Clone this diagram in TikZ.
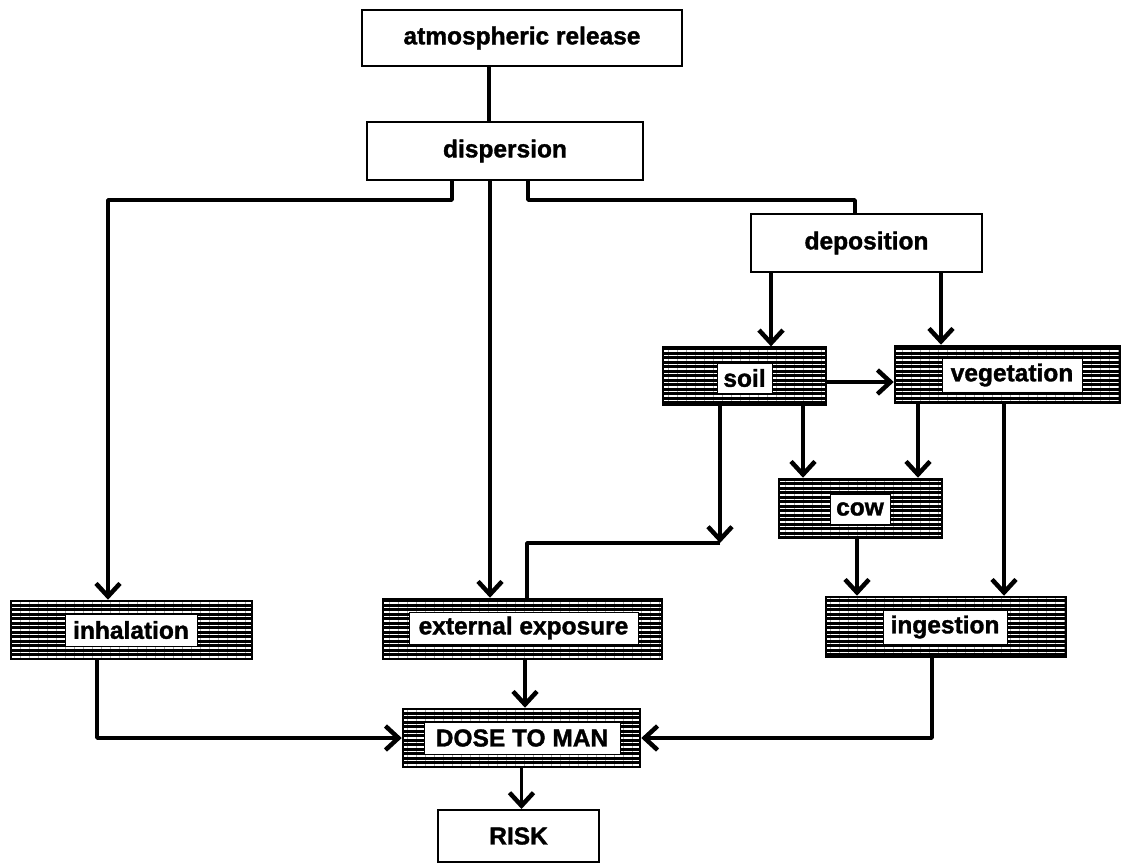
\documentclass[tikz,border=0pt]{standalone}
\usepackage{fontspec}
\setmainfont{Liberation Sans}
\newfontfamily\heavyfont{Liberation Sans Bold}[FakeBold=1.4]
\usetikzlibrary{arrows.meta,patterns.meta}
\begin{document}
\begin{tikzpicture}[x=1pt,y=-1pt,
  txt/.style={font=\fontsize{24.5}{29}\heavyfont},
  plain/.style={draw, line width=2pt, fill=white, inner sep=0pt, txt},
  hatch/.style={draw, line width=2.5pt, inner sep=0pt,
    preaction={fill=black},
    pattern={Lines[angle=0,distance=4.5pt,line width=1.2pt]}, pattern color=white},
  lab/.style={fill=white, draw, line width=1pt, inner sep=0pt, txt},
  conn/.style={line width=3.5pt, line join=round},
  arr/.style={conn, -{Straight Barb[length=13pt,width=24pt,line width=4.5pt]}},
]
\useasboundingbox (0,0) rectangle (1124,864);

% plain boxes
\node[plain, minimum width=320pt, minimum height=56pt] (atmos) at (522,38) {atmospheric release};
\node[plain, minimum width=276pt, minimum height=58pt] (disp) at (505,151) {dispersion};
\node[plain, minimum width=231pt, minimum height=58pt] (depo) at (866.5,243) {deposition};
\node[plain, minimum width=161pt, minimum height=52pt] (risk) at (518.5,836) {RISK};

% hatched boxes
\node[hatch, minimum width=163pt, minimum height=58pt] (soil) at (744.5,376) {};
\node[lab, minimum width=55pt, minimum height=30pt] (soillab) at (744.5,378) {soil};
\node[hatch, minimum width=225pt, minimum height=57pt] (veg) at (1007.5,374.5) {};
\node[lab, minimum width=140pt, minimum height=34pt] (veglab) at (1012,375) {vegetation};
\node[hatch, minimum width=163pt, minimum height=59pt] (cow) at (860.5,508.5) {};
\node[lab, minimum width=60pt, minimum height=30pt] (cowlab) at (860,509) {cow};
\node[hatch, minimum width=241pt, minimum height=58pt] (inhal) at (131.5,630) {};
\node[lab, minimum width=132pt, minimum height=32pt] (inhallab) at (131,630) {inhalation};
\node[hatch, minimum width=279pt, minimum height=60pt] (ext) at (522.5,629) {};
\node[lab, minimum width=229pt, minimum height=32pt] (extlab) at (523.5,628) {external exposure};
\node[hatch, minimum width=240pt, minimum height=60pt] (ingest) at (946,627) {};
\node[lab, minimum width=124pt, minimum height=34pt] (ingestlab) at (945,627) {ingestion};
\node[hatch, minimum width=237pt, minimum height=58pt] (dose) at (521.5,738) {};
\node[lab, minimum width=196pt, minimum height=32pt] (doselab) at (522,738) {DOSE TO MAN};

\coordinate (j) at (720,543);

% connectors
\draw[conn] ([xshift=-33pt]atmos.south) -- ([xshift=-33pt]atmos.south |- disp.north);
\draw[arr] ([xshift=-53pt]disp.south) -- ++(0,19) -| ([xshift=-23.5pt]inhal.north);
\draw[arr] ([xshift=-15pt]disp.south) -- ([xshift=-15pt]disp.south |- ext.north);
\draw[conn] ([xshift=23pt]disp.south) -- ++(0,19) -| ([xshift=-11.5pt]depo.north);
\draw[arr] ([xshift=-95.5pt]depo.south) -- ([xshift=-95.5pt]depo.south |- soil.north);
\draw[arr] ([xshift=74.5pt]depo.south) -- ([xshift=74.5pt]depo.south |- veg.north);
\draw[arr] ([yshift=-6pt]soil.east) -- ([yshift=-6pt]soil.east -| veg.west);
\draw[arr] ([xshift=-24.5pt]soil.south) -- (j);
\draw[conn] (j) -| ([xshift=4.5pt]ext.north);
\draw[arr] ([xshift=58.5pt]soil.south) -- ([xshift=58.5pt]soil.south |- cow.north);
\draw[arr] ([xshift=-89.5pt]veg.south) -- ([xshift=-89.5pt]veg.south |- cow.north);
\draw[arr] ([xshift=-3.5pt]veg.south) -- ([xshift=-3.5pt]veg.south |- ingest.north);
\draw[arr] ([xshift=-3.5pt]cow.south) -- ([xshift=-3.5pt]cow.south |- ingest.north);
\draw[arr] ([xshift=-34.5pt]inhal.south) |- (dose.west);
\draw[arr] ([xshift=2.5pt]ext.south) -- ([xshift=2.5pt]ext.south |- dose.north);
\draw[arr] ([xshift=-14pt]ingest.south) |- (dose.east);
\draw[arr] (dose.south) -- (dose.south |- risk.north);
\end{tikzpicture}
\end{document}
